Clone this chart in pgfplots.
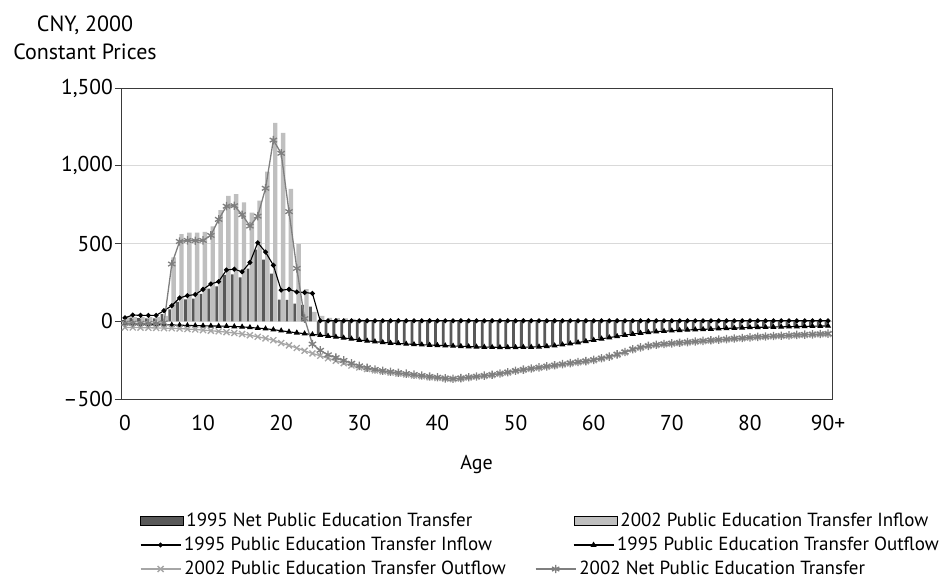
\documentclass[border=0pt]{standalone}
\usepackage{fontspec}
\setmainfont{PT Sans}
\usepackage{pgfplots}
\usepackage{pgfplotstable}
\pgfplotsset{compat=1.18}
\definecolor{dkbar}{HTML}{595959}
\definecolor{ltbar}{HTML}{BFBFBF}
\definecolor{ltline}{HTML}{A6A6A6}
\definecolor{dkline}{HTML}{7F7F7F}
\definecolor{gridc}{HTML}{D9D9D9}
\definecolor{axc}{HTML}{3A3A3A}

\pgfplotstableread{
age n95 in02 in95 out95 out02 n02
0 7 27 22 -15 -40 -12
1 23 27 40 -17 -40 -12
2 20 27 38 -18 -41 -13
3 19 27 38 -19 -42 -14
4 18 28 38 -20 -43 -15
5 46 35 68 -22 -44 -10
6 76 410 100 -24 -45 368
7 125 560 150 -25 -47 513
8 140 570 165 -27 -50 520
9 145 570 172 -28 -53 518
10 176 575 205 -29 -57 520
11 210 610 240 -30 -61 552
12 224 715 255 -31 -65 655
13 298 807 330 -32 -70 740
14 301 818 335 -34 -76 743
15 282 764 318 -36 -82 685
16 338 698 378 -40 -90 612
17 461 775 505 -44 -100 676
18 397 963 445 -48 -110 855
19 306 1275 360 -54 -122 1165
20 139 1212 200 -61 -140 1080
21 137 852 205 -68 -155 705
22 114 496 188 -74 -172 340
23 105 207 185 -80 -190 17
24 94 60 179 -85 -207 -147
25 -86 35 3 -89 -222 -187
26 -92 22 3 -95 -238 -216
27 -98 20 3 -101 -254 -234
28 -104 18 3 -107 -270 -252
29 -111 15 3 -114 -285 -270
30 -118 10 3 -121 -297 -287
31 -123 8 3 -126 -307 -299
32 -128 6 3 -131 -316 -310
33 -133 5 3 -136 -323 -318
34 -137 5 3 -140 -330 -325
35 -140 5 3 -143 -336 -331
36 -143 5 3 -146 -342 -337
37 -146 5 3 -149 -348 -343
38 -148 5 3 -151 -354 -349
39 -150 5 3 -153 -360 -355
40 -152 5 3 -155 -365 -360
41 -154 2 3 -157 -369 -367
42 -156 2 3 -159 -372 -370
43 -158 2 3 -161 -368 -366
44 -160 2 3 -163 -362 -360
45 -162 2 3 -165 -357 -355
46 -163 2 3 -166 -352 -350
47 -164 2 3 -167 -346 -344
48 -165 2 3 -168 -338 -336
49 -165 2 3 -168 -330 -328
50 -165 2 3 -168 -320 -318
51 -164 2 3 -167 -313 -311
52 -163 2 3 -166 -306 -304
53 -161 2 3 -164 -299 -297
54 -158 2 3 -161 -292 -290
55 -154 2 3 -157 -285 -283
56 -148 2 3 -151 -278 -276
57 -141 2 3 -144 -271 -269
58 -134 2 3 -137 -264 -262
59 -126 2 3 -129 -258 -256
60 -118 2 3 -121 -250 -248
61 -110 2 3 -113 -240 -238
62 -102 2 3 -105 -229 -227
63 -94 2 3 -97 -215 -213
64 -86 2 3 -89 -200 -198
65 -79 2 3 -82 -182 -180
66 -73 2 3 -76 -170 -168
67 -68 2 3 -71 -160 -158
68 -64 2 3 -67 -153 -151
69 -61 2 3 -64 -148 -146
70 -58 2 3 -61 -144 -142
71 -55 2 3 -58 -140 -138
72 -53 2 3 -56 -136 -134
73 -51 2 3 -54 -132 -130
74 -49 2 3 -52 -128 -126
75 -47 2 3 -50 -124 -122
76 -45 2 3 -48 -120 -118
77 -43 2 3 -46 -117 -115
78 -41 2 3 -44 -113 -111
79 -39 2 3 -42 -110 -108
80 -37 2 3 -40 -106 -104
81 -36 2 3 -39 -102 -100
82 -35 2 3 -38 -100 -98
83 -34 2 3 -37 -97 -95
84 -33 2 3 -36 -95 -93
85 -32 2 3 -35 -93 -91
86 -31 2 3 -34 -90 -88
87 -30 2 3 -33 -88 -86
88 -29 2 3 -32 -86 -84
89 -28 2 3 -31 -84 -82
90 -27 2 3 -30 -82 -80
}\data

\newcommand{\fnt}{\fontsize{20pt}{24pt}\selectfont}
\newcommand{\tfnt}{\fontsize{21.5pt}{25pt}\selectfont}
\newcommand{\lfnt}{\fontsize{19pt}{23pt}\selectfont}

\pgfplotsset{
  barlegend/.style={legend image code/.code={\fill[##1] (0pt,-4.5pt) rectangle (43pt,4.5pt);}},
  linelegend/.style={legend image code/.code={\draw[mark repeat=2, mark phase=2, ##1] plot coordinates {(0pt,0pt) (20pt,0pt) (40pt,0pt)};}},
}

\newcommand{\legitem}[4]{%
\begin{axis}[hide axis, scale only axis, width=1pt, height=1pt,
  xmin=0, xmax=1, ymin=0, ymax=1, at={(#1pt,#2pt)}, anchor=center,
  legend style={at={(0.5,0.5)}, anchor=west, draw=none, fill=none,
    inner sep=0pt, outer sep=0pt, font=\lfnt,
    nodes={inner sep=0pt},
    /tikz/every odd column/.style={column sep=3pt}},
  legend cell align=left]
\addlegendimage{#3}
\addlegendentry{#4}
\end{axis}}

\begin{document}
\fnt
\begin{tikzpicture}
\useasboundingbox (0pt,0pt) rectangle (942pt,587pt);
\begin{axis}[
  at={(121pt,188pt)}, anchor=south west,
  width=711pt, height=311pt, scale only axis,
  xmin=-0.5, xmax=90.5, ymin=-500, ymax=1500,
  xtick={0,10,...,90}, xticklabels={0,10,20,30,40,50,60,70,80,90+},
  ytick={-500,0,500,1000,1500}, yticklabels={–500,0,500,{1,000},{1,500}},
  tick pos=left,
  ymajorgrids, grid style={gridc, line width=0.8pt},
  axis line style={axc, line width=0.9pt},
  x tick style={draw=none}, y tick style={axc, line width=0.9pt},
  tick align=outside, major tick length=6pt,
  tick label style={font=\tfnt},
  yticklabel style={inner sep=2pt},
  xticklabel style={yshift=-3pt},
  xlabel={Age}, label style={font=\fnt},
  xlabel style={at={(axis description cs:0.5,0)}, anchor=center, yshift=-66pt},
]
\addplot[ybar, bar width=2.8pt, bar shift=-2pt, fill=dkbar, draw=none] table[x=age,y=n95]{\data};
\addplot[ybar, bar width=4.4pt, bar shift=1.9pt, fill=ltbar, draw=none] table[x=age,y=in02]{\data};
\addplot[black, line width=1.1pt, mark=*, mark size=1.9pt] table[x=age,y=in95]{\data};
\addplot[black, line width=1.1pt, mark=triangle*, mark size=2.4pt] table[x=age,y=out95]{\data};
\addplot[ltline, line width=1.3pt, mark=x, mark size=4.2pt] table[x=age,y=out02]{\data};
\addplot[dkline, line width=1.3pt, mark=asterisk, mark size=4.2pt] table[x=age,y=n02]{\data};
\end{axis}
\node[align=center, font=\fontsize{22pt}{28pt}\selectfont] at (85pt,549pt) {CNY, 2000\\Constant Prices};
\legitem{140}{66}{barlegend, fill=dkbar}{1995 Net Public Education Transfer}
\legitem{574}{66}{barlegend, fill=ltbar}{2002 Public Education Transfer Inflow}
\legitem{140}{42}{linelegend, black, line width=1.1pt, mark=*, mark size=1.9pt}{1995 Public Education Transfer Inflow}
\legitem{573}{42}{linelegend, black, line width=1.1pt, mark=triangle*, mark size=2.4pt}{1995 Public Education Transfer Outflow}
\legitem{140}{18}{linelegend, ltline, line width=1.3pt, mark=x, mark size=4.2pt}{2002 Public Education Transfer Outflow}
\legitem{535}{18}{linelegend, dkline, line width=1.3pt, mark=asterisk, mark size=4.2pt}{2002 Net Public Education Transfer}
\end{tikzpicture}
\end{document}
